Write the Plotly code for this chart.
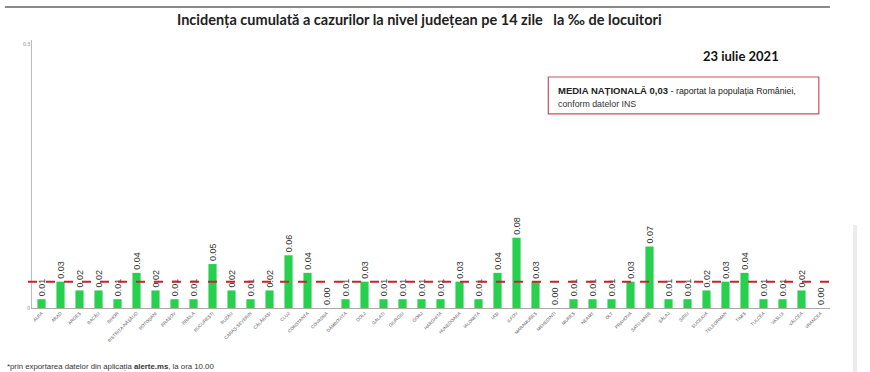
import plotly.graph_objects as go

counties = ["ALBA", "ARAD", "ARGEȘ", "BACĂU", "BIHOR", "BISTRIȚA-NĂSĂUD", "BOTOȘANI", "BRAȘOV",
            "BRĂILA", "BUCUREȘTI", "BUZĂU", "CARAȘ-SEVERIN", "CĂLĂRAȘI", "CLUJ", "CONSTANȚA",
            "COVASNA", "DÂMBOVIȚA", "DOLJ", "GALAȚI", "GIURGIU", "GORJ", "HARGHITA", "HUNEDOARA",
            "IALOMIȚA", "IAȘI", "ILFOV", "MARAMUREȘ", "MEHEDINȚI", "MUREȘ", "NEAMȚ", "OLT",
            "PRAHOVA", "SATU MARE", "SĂLAJ", "SIBIU", "SUCEAVA", "TELEORMAN", "TIMIȘ", "TULCEA",
            "VASLUI", "VÂLCEA", "VRANCEA"]
incidence = [0.01, 0.03, 0.02, 0.02, 0.01, 0.04, 0.02, 0.01,
             0.01, 0.05, 0.02, 0.01, 0.02, 0.06, 0.04,
             0.00, 0.01, 0.03, 0.01, 0.01, 0.01, 0.01, 0.03,
             0.01, 0.04, 0.08, 0.03, 0.00, 0.01, 0.01, 0.01,
             0.03, 0.07, 0.01, 0.01, 0.02, 0.03, 0.04, 0.01,
             0.01, 0.02, 0.00]
national_mean = 0.03
y_ticks = [0, 0.3]
y_tick_text = ["0", "0.3"]

fig = go.Figure()
fig.add_trace(go.Bar(
    x=counties, y=incidence,
    marker=dict(color="#27d04f", line=dict(width=0)),
    text=[f"{v:.2f}" for v in incidence],
    textposition="outside", textangle=-90, constraintext="none",
    textfont=dict(size=9, color="#333333", family="Liberation Sans"),
    cliponaxis=False,
))

# national mean dashed line
fig.add_shape(type="line", xref="paper", yref="y", x0=-0.005, x1=1.0,
              y0=national_mean, y1=national_mean,
              line=dict(color="#cc1f2f", width=2, dash="dash"), layer="above")

# top decorative gray line
fig.add_shape(type="line", xref="paper", yref="paper", x0=-0.034, x1=1.0,
              y0=1.123, y1=1.123, line=dict(color="#8a8a8a", width=2))

# right faint strip
fig.add_shape(type="rect", xref="paper", yref="paper", x0=1.029, x1=1.034,
              y0=-0.24, y1=0.31, line=dict(width=0), fillcolor="#ececec")

# info box
fig.add_shape(type="rect", xref="paper", yref="paper", x0=0.647, x1=0.986,
              y0=0.724, y1=0.862, line=dict(color="#c9505f", width=1.2),
              fillcolor="white")

fig.add_annotation(xref="paper", yref="paper", x=0.485, y=1.075,
                   text="<b>Incidența cumulată a cazurilor la nivel județean pe 14 zile   la ‰ de locuitori</b>",
                   showarrow=False, font=dict(size=14.5, color="#222222", family="Lato"),
                   xanchor="center", yanchor="middle")
fig.add_annotation(xref="paper", yref="paper", x=0.888, y=0.94,
                   text="<b>23 iulie 2021</b>", showarrow=False,
                   font=dict(size=13, color="#111111", family="Lato"),
                   xanchor="center", yanchor="middle")
fig.add_annotation(xref="paper", yref="paper", x=0.657, y=0.81,
                   text="<b>MEDIA NAȚIONALĂ 0,03</b> <span style='font-size:8.8px'>- raportat la populația României,</span>",
                   showarrow=False, font=dict(size=9.5, color="#222222", family="Liberation Sans"),
                   xanchor="left", yanchor="middle")
fig.add_annotation(xref="paper", yref="paper", x=0.657, y=0.762,
                   text="conform datelor INS", showarrow=False,
                   font=dict(size=8.8, color="#333333", family="Liberation Sans"),
                   xanchor="left", yanchor="middle")
fig.add_annotation(xref="paper", yref="paper", x=-0.034, y=-0.22,
                   text="*prin exportarea datelor din aplicația <b>alerte.ms</b>, la ora 10.00",
                   showarrow=False, font=dict(size=7.8, color="#333333", family="Liberation Sans"),
                   xanchor="left", yanchor="middle")

fig.update_layout(
    width=870, height=372,
    margin=dict(l=32, r=40, t=40, b=64),
    paper_bgcolor="white", plot_bgcolor="white",
    showlegend=False, bargap=0.57,
    xaxis=dict(tickangle=-45, tickfont=dict(size=4.5, color="#555555", family="Liberation Sans"),
               showline=True, linecolor="#aaaaaa", linewidth=1, ticks="", showgrid=False),
    yaxis=dict(range=[0, 0.305], tickvals=y_ticks, ticktext=y_tick_text,
               tickfont=dict(size=5, color="#777777"), showgrid=False, zeroline=False,
               showline=True, linecolor="#bbbbbb", linewidth=1, ticks=""),
)

fig.write_html("out.html")
